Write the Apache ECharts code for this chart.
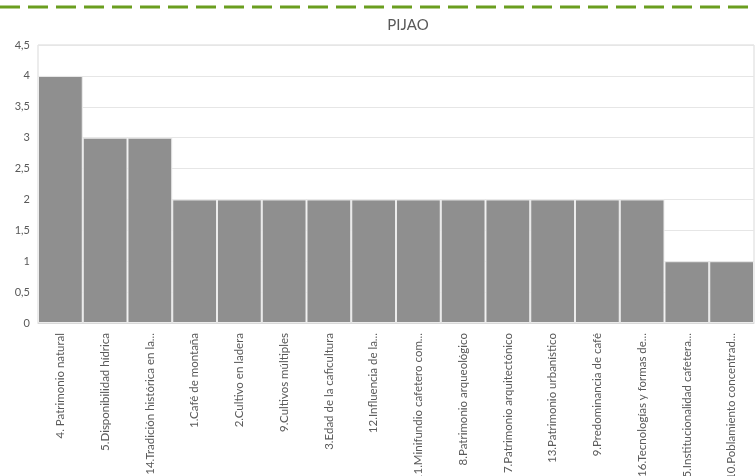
<!DOCTYPE html>
<html>
<head>
<meta charset="utf-8">
<script src="https://cdn.jsdelivr.net/npm/echarts@6/dist/echarts.min.js"></script>
<style>
html,body{margin:0;padding:0;background:#fff;}
#chart{width:756px;height:476px;}
</style>
</head>
<body>
<div id="chart"></div>
<script>
const categories = [
  "4. Patrimonio natural",
  "5.Disponibilidad hídrica",
  "14.Tradición histórica en la...",
  "1.Café de montaña",
  "2.Cultivo en ladera",
  "9.Cultivos múltiples",
  "3.Edad de la caficultura",
  "12.Influencia de la...",
  "11.Minifundio cafetero com...",
  "8.Patrimonio arqueológico",
  "7.Patrimonio arquitectónico",
  "13.Patrimonio urbanístico",
  "9.Predominancia de café",
  "16.Tecnologías y formas de...",
  "15.Institucionalidad cafetera...",
  "10.Poblamiento concentrad..."
];
const values = [4, 3, 3, 2, 2, 2, 2, 2, 2, 2, 2, 2, 2, 2, 1, 1];
const yTicks = [0, 0.5, 1, 1.5, 2, 2.5, 3, 3.5, 4, 4.5];
const title = "PIJAO";

const chart = echarts.init(document.getElementById('chart'), null, {renderer: 'canvas'});
const fontFam = 'Lato, "Open Sans", sans-serif';
chart.setOption({
  animation: false,
  backgroundColor: '#ffffff',
  title: {
    text: title,
    left: 403,
    textAlign: 'center',
    top: 13,
    textStyle: {fontFamily: fontFam, fontSize: 15, fontWeight: 'normal', color: '#595959'}
  },
  graphic: [{
    type: 'line',
    shape: {x1: 0, y1: 7, x2: 756, y2: 7},
    style: {stroke: '#6a9e1f', lineWidth: 3, lineDash: [20, 8]}
  }],
  grid: {left: 38, right: 2, top: 45, bottom: 153, show: true, borderColor: '#d9d9d9', borderWidth: 1,
         containLabel: false, outerBoundsMode: 'none'},
  xAxis: {
    type: 'category',
    data: categories,
    axisLine: {show: true, lineStyle: {color: '#d9d9d9'}},
    axisTick: {show: false},
    axisLabel: {rotate: 90, interval: 0, margin: 10, fontFamily: fontFam, fontSize: 11.5, color: '#595959'}
  },
  yAxis: {
    type: 'value',
    min: 0, max: 4.5, interval: 0.5,
    axisLine: {show: false},
    axisTick: {show: false},
    splitLine: {show: true, lineStyle: {color: '#e6e6e6', width: 1}},
    axisLabel: {
      margin: 8, fontFamily: fontFam, fontSize: 11, color: '#595959',
      formatter: v => yTicks.includes(v) ? String(v).replace('.', ',') : ''
    }
  },
  series: [{
    type: 'bar',
    data: values,
    barCategoryGap: '0%',
    itemStyle: {color: '#8f8f8f', borderColor: '#ececec', borderWidth: 1}
  }]
});
</script>
</body>
</html>
